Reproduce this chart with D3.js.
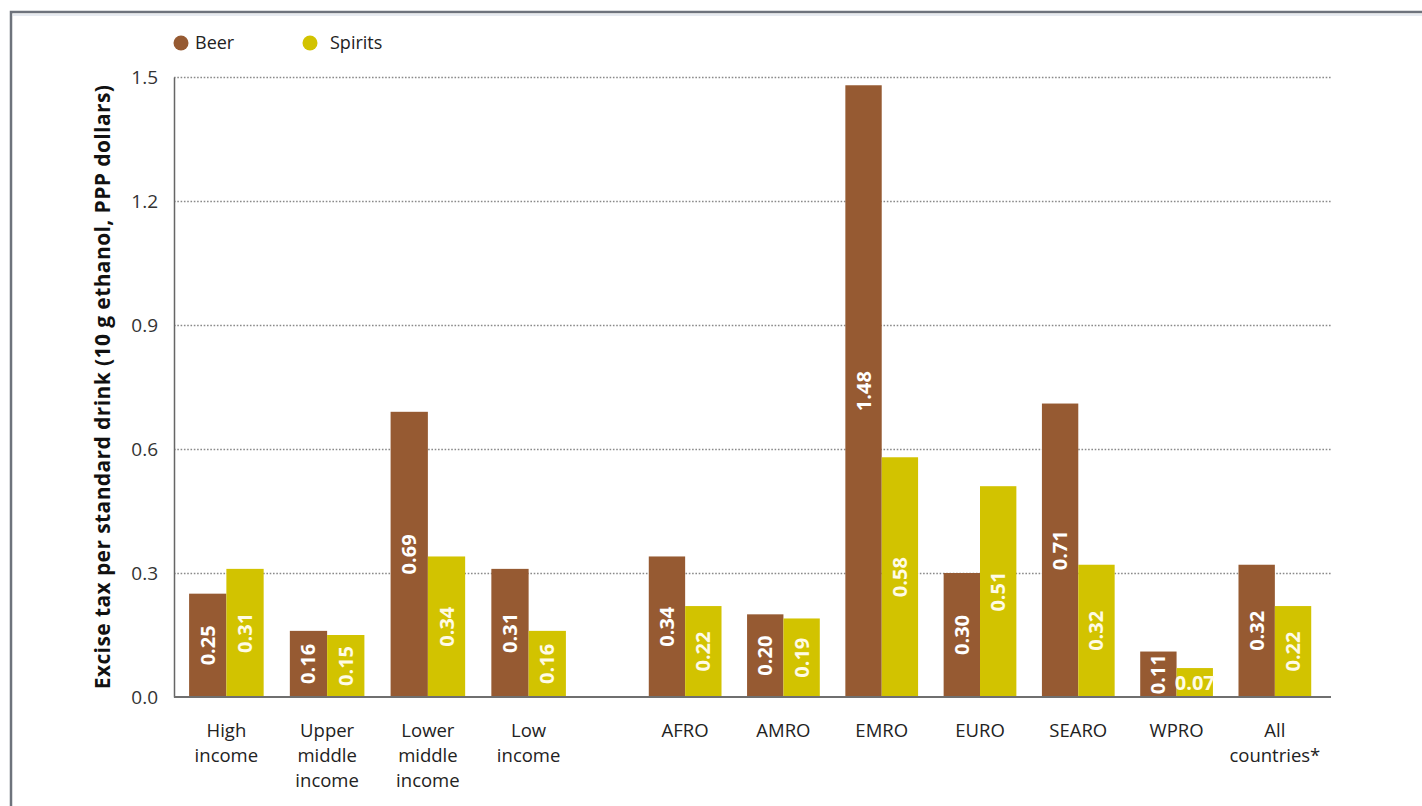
<!DOCTYPE html>
<html>
<head>
<meta charset="utf-8">
<script src="https://cdn.jsdelivr.net/npm/d3@7"></script>
<style>
  body { margin: 0; background: #fff; }
  text { font-family: "Open Sans", "DejaVu Sans", sans-serif; }
</style>
</head>
<body>
<script>
// data
var series = ["Beer", "Spirits"];
var seriesColors = ["#965a32", "#d2c300"];

var incomeCats = ["High\nincome", "Upper\nmiddle\nincome", "Lower\nmiddle\nincome", "Low\nincome"];
var beerIncome = [0.25, 0.16, 0.69, 0.31];
var spiritsIncome = [0.31, 0.15, 0.34, 0.16];

var regionCats = ["AFRO", "AMRO", "EMRO", "EURO", "SEARO", "WPRO", "All\ncountries*"];
var beerRegion = [0.34, 0.20, 1.48, 0.30, 0.71, 0.11, 0.32];
var spiritsRegion = [0.22, 0.19, 0.58, 0.51, 0.32, 0.07, 0.22];

var yTicks = [0, 0.3, 0.6, 0.9, 1.2, 1.5];
var yTitle = "Excise tax per standard drink (10 g ethanol, PPP dollars)";

window.onload = function(){
    var w = 1422, h = 806;
    var left = 174, right = 1331, top = 77, bottom = 697;

    var svg = d3.select("body").append("svg")
      .attr("width", w)
      .attr("height", h);

    // frame round the picture
    svg.append("rect")
      .attr("x", 11).attr("y", 12)
      .attr("width", 1500).attr("height", 900)
      .attr("fill", "none")
      .attr("stroke", "#6e737c")
      .attr("stroke-width", 2.5);
    svg.append("line")
      .attr("x1", 13).attr("x2", w).attr("y1", 15).attr("y2", 15)
      .attr("stroke", "#dfe5ec").attr("stroke-width", 1.5);

    var y = d3.scaleLinear().domain([0, 1.5]).range([bottom, top]);

    // two panels, each with its own band scale
    var panels = [
      { cats: incomeCats, beer: beerIncome, spirits: spiritsIncome,
        x: d3.scaleBand().domain(incomeCats).range([176, 579]).paddingInner(0.26).paddingOuter(0.13) },
      { cats: regionCats, beer: beerRegion, spirits: spiritsRegion,
        x: d3.scaleBand().domain(regionCats).range([636, 1324]).paddingInner(0.26).paddingOuter(0.13) }
    ];

    // dotted gridlines
    var grid = svg.append("g")
      .attr("transform", "translate(" + left + ",0)")
      .call(d3.axisRight(y).tickValues(yTicks.slice(1)).tickSize(right - left).tickFormat(""));
    grid.select(".domain").remove();
    grid.selectAll("line")
      .attr("stroke", "#8a8a8a")
      .attr("stroke-width", 1.6)
      .attr("stroke-dasharray", "1.6,1.7");

    // y axis
    var yAxis = svg.append("g")
      .attr("transform", "translate(" + left + ",0)")
      .call(d3.axisLeft(y).tickValues(yTicks).tickSize(0).tickPadding(16).tickFormat(d3.format(".1f")));
    yAxis.select(".domain").attr("stroke", "#666").attr("stroke-width", 1.5);
    yAxis.selectAll("text")
      .attr("fill", "#333")
      .style("font-size", "19px");

    svg.append("text")
      .attr("transform", "translate(110," + ((top + bottom) / 2) + ") rotate(-90)")
      .attr("text-anchor", "middle")
      .attr("fill", "#111")
      .style("font-size", "21px")
      .style("font-weight", "bold")
      .style("letter-spacing", "0.4px")
      .text(yTitle);

    panels.forEach(function(p){
      var xs = d3.scaleBand().domain(series).range([0, p.x.bandwidth()]);
      var rows = p.cats.map(function(c, i){
        return { cat: c, vals: [p.beer[i], p.spirits[i]] };
      });

      var groups = svg.append("g").selectAll("g")
        .data(rows)
        .join("g")
        .attr("transform", function(d){ return "translate(" + p.x(d.cat) + ",0)"; });

      var cells = groups.selectAll("g")
        .data(function(d){ return d.vals.map(function(v, k){ return { s: series[k], k: k, v: v }; }); })
        .join("g");

      cells.append("rect")
        .attr("x", function(d){ return xs(d.s); })
        .attr("y", function(d){ return y(d.v); })
        .attr("width", xs.bandwidth())
        .attr("height", function(d){ return y(0) - y(d.v); })
        .attr("fill", function(d){ return seriesColors[d.k]; });

      cells.append("text")
        .attr("text-anchor", "middle")
        .attr("dy", "0.35em")
        .attr("fill", function(d){ return d.k === 0 ? "#ffffff" : "#fffbe6"; })
        .style("font-size", "20px")
        .style("font-weight", "bold")
        .attr("transform", function(d){
          var cx = xs(d.s) + xs.bandwidth() / 2;
          var barH = y(0) - y(d.v);
          var cy = (y(d.v) + y(0)) / 2;
          if (barH < 38) return "translate(" + cx + "," + (y(0) - 14) + ")";
          return "translate(" + cx + "," + cy + ") rotate(-90)";
        })
        .text(function(d){ return d3.format(".2f")(d.v); });

      // category labels
      var xAxis = svg.append("g")
        .attr("transform", "translate(0," + bottom + ")")
        .call(d3.axisBottom(p.x).tickSize(0).tickFormat(""));
      xAxis.select(".domain").remove();
      xAxis.selectAll(".tick").append("text")
        .attr("text-anchor", "middle")
        .attr("fill", "#222")
        .style("font-size", "18.5px")
        .selectAll("tspan")
        .data(function(d){ return d.split("\n"); })
        .join("tspan")
        .attr("x", 0)
        .attr("y", function(d, i){ return 40 + i * 25; })
        .text(function(d){ return d; });
    });

    // base line
    svg.append("line")
      .attr("x1", left).attr("x2", right)
      .attr("y1", y(0)).attr("y2", y(0))
      .attr("stroke", "#6f6f6f")
      .attr("stroke-width", 2);

    // legend
    var legend = svg.append("g").selectAll("g")
      .data(series)
      .join("g")
      .attr("transform", function(d, i){ return "translate(" + (181 + i * 129) + ",43)"; });
    legend.append("circle")
      .attr("r", 7.5)
      .attr("fill", function(d, i){ return seriesColors[i]; });
    legend.append("text")
      .attr("x", function(d, i){ return i === 0 ? 14 : 20; })
      .attr("dy", "0.35em")
      .attr("fill", "#222")
      .style("font-size", "18px")
      .text(function(d){ return d; });
};
</script>
</body>
</html>
